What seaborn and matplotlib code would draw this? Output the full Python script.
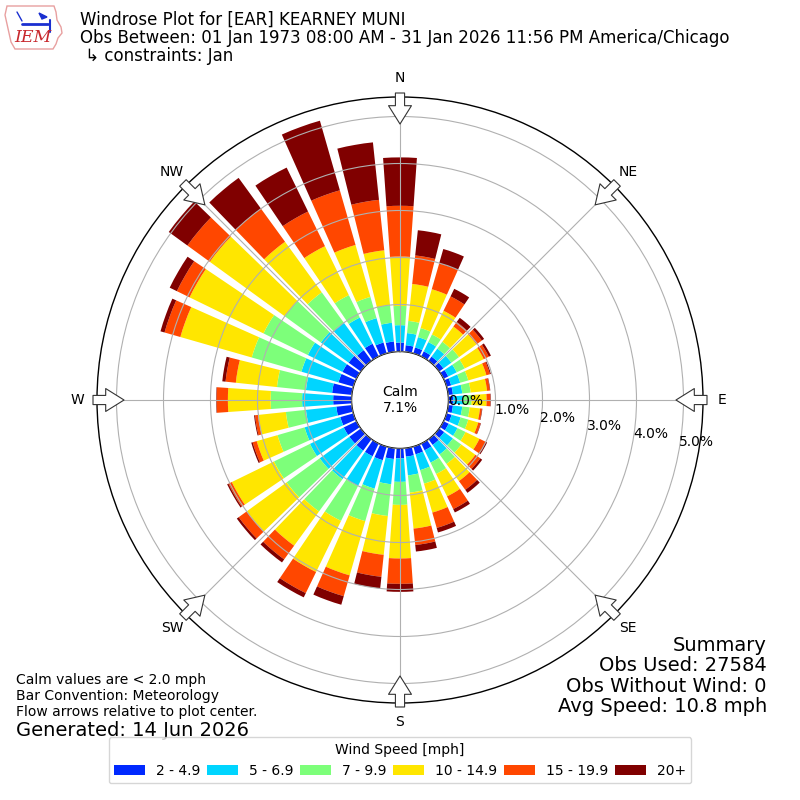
import numpy as np
import pandas as pd
import matplotlib
matplotlib.use("Agg")
import matplotlib.pyplot as plt
from matplotlib.patches import Polygon
from matplotlib.lines import Line2D
import seaborn as sns

# ---------------- data ----------------
directions = list(range(0, 360, 10))
speed_bins = ["2 - 4.9", "5 - 6.9", "7 - 9.9", "10 - 14.9", "15 - 19.9", "20+"]

pct_2_5 = [0.19, 0.14, 0.13, 0.12, 0.11, 0.11, 0.11, 0.10, 0.10, 0.10, 0.10, 0.11,
           0.12, 0.13, 0.15, 0.16, 0.17, 0.18, 0.21, 0.23, 0.30, 0.30, 0.30, 0.30,
           0.30, 0.29, 0.33, 0.39, 0.42, 0.33, 0.33, 0.32, 0.28, 0.30, 0.24, 0.22]
pct_5_7 = [0.37, 0.26, 0.23, 0.22, 0.21, 0.21, 0.20, 0.20, 0.20, 0.21, 0.20, 0.20,
           0.21, 0.23, 0.25, 0.29, 0.35, 0.40, 0.50, 0.54, 0.63, 0.71, 0.75, 0.78,
           0.80, 0.79, 0.65, 0.66, 0.56, 0.82, 0.82, 0.73, 0.72, 0.62, 0.54, 0.40]
pct_7_10 = [0.41, 0.26, 0.20, 0.18, 0.18, 0.20, 0.19, 0.18, 0.18, 0.18, 0.16, 0.17,
            0.19, 0.22, 0.25, 0.27, 0.30, 0.37, 0.49, 0.68, 0.72, 0.82, 0.85, 0.87,
            0.85, 0.60, 0.43, 0.67, 0.62, 1.10, 1.05, 0.95, 0.80, 0.53, 0.47, 0.38]
pct_10_15 = [1.05, 0.79, 0.86, 0.56, 0.40, 0.46, 0.45, 0.40, 0.35, 0.32, 0.22, 0.22,
             0.33, 0.37, 0.45, 0.53, 0.64, 0.77, 1.14, 0.83, 1.20, 1.21, 0.90, 1.05,
             1.00, 0.46, 0.59, 0.91, 0.88, 1.58, 1.75, 1.97, 1.33, 1.16, 1.15, 1.17]
pct_15_20 = [1.08, 0.61, 0.57, 0.34, 0.12, 0.14, 0.12, 0.08, 0.06, 0.08, 0.04, 0.05,
             0.15, 0.13, 0.23, 0.30, 0.34, 0.35, 0.54, 0.47, 0.46, 0.50, 0.36, 0.21,
             0.08, 0.09, 0.07, 0.24, 0.22, 0.35, 0.30, 0.59, 0.87, 0.82, 1.21, 1.08]
pct_20p = [1.03, 0.54, 0.32, 0.18, 0.11, 0.06, 0.05, 0.02, 0.01, 0.01, 0.01, 0.01,
           0.03, 0.05, 0.08, 0.08, 0.10, 0.14, 0.17, 0.25, 0.19, 0.10, 0.08, 0.05,
           0.03, 0.03, 0.02, 0.01, 0.07, 0.09, 0.17, 0.49, 0.81, 1.04, 1.54, 1.23]

radial_ticks = [0, 1, 2, 3, 4, 5]
radial_labels = ["0.0%", "1.0%", "2.0%", "3.0%", "4.0%", "5.0%"]
compass_angles = [0, 45, 90, 135, 180, 225, 270, 315]
compass_labels = ["N", "NE", "E", "SE", "S", "SW", "W", "NW"]
calm_pct = 7.1

df = pd.DataFrame({"dir": directions,
                   speed_bins[0]: pct_2_5, speed_bins[1]: pct_5_7,
                   speed_bins[2]: pct_7_10, speed_bins[3]: pct_10_15,
                   speed_bins[4]: pct_15_20, speed_bins[5]: pct_20p})

# ---------------- style ----------------
sns.set_style("white")
plt.rcParams["font.family"] = ["DejaVu Sans"]
for k in ["text.color", "axes.labelcolor", "xtick.color", "ytick.color"]:
    plt.rcParams[k] = "black"
jet = matplotlib.colormaps["jet"]
palette = sns.color_palette([jet(v) for v in np.linspace(0, 1, 7)[1:]])

fig = plt.figure(figsize=(8, 8), dpi=100)
ax = fig.add_axes([0.12125, 0.12125, 0.7575, 0.7575], projection="polar")
ax.set_theta_zero_location("N")
ax.set_theta_direction(-1)
ax.set_rorigin(-1.032)
ax.set_ylim(0, 5.415)

theta = np.deg2rad(df["dir"].to_numpy())
bottom = np.zeros(len(df))
for i, name in enumerate(speed_bins):
    vals = df[name].to_numpy()
    ax.bar(theta, vals, width=np.deg2rad(8), bottom=bottom, color=palette[i],
           linewidth=0, label=name, zorder=1)
    bottom = bottom + vals

ax.set_axisbelow(False)
ax.grid(True, color="#b0b0b0", linewidth=0.8, zorder=3)
ax.set_xticks(np.deg2rad(compass_angles))
ax.set_xticklabels(compass_labels, fontsize=10)
ax.tick_params(axis="x", pad=3.5)
ax.set_yticks(radial_ticks)
ax.set_yticklabels(radial_labels, fontsize=10)
ax.set_rlabel_position(100)
for sp in ax.spines.values():
    sp.set_color("black")
    sp.set_linewidth(1.0)

# flow arrows on the rim
for a in compass_angles:
    ax.annotate("", xy=(np.deg2rad(a), 4.84), xytext=(np.deg2rad(a), 5.50),
                xycoords="data", textcoords="data", annotation_clip=False,
                arrowprops=dict(arrowstyle="simple,head_length=0.6,head_width=0.75,tail_width=0.3",
                                fc="white", ec="#333333", lw=0.8,
                                mutation_scale=22, shrinkA=0, shrinkB=0),
                zorder=5)

ax.text(0.5, 0.5, f"Calm\n{calm_pct:.1f}%", transform=ax.transAxes,
        ha="center", va="center", fontsize=10)

# ---------------- logo (approximate) ----------------
def fp(px, py):
    return (px / 800, 1 - py / 800)

iowa = [fp(*p) for p in [(7, 6), (54, 6), (56, 12), (57, 20), (61, 27), (62, 33),
                         (58, 38), (56, 44), (53, 49), (15, 49), (11, 42), (9, 33),
                         (7, 24), (5, 15)]]
fig.add_artist(Polygon(iowa, closed=True, fill=False, ec="#e8a0a0", lw=1.0,
                       transform=fig.transFigure))
fig.add_artist(Line2D([22 / 800, 48 / 800], [1 - 24 / 800, 1 - 24 / 800], color="#1a2fd0",
                      lw=2, transform=fig.transFigure))
fig.add_artist(Line2D([17 / 800, 22 / 800], [1 - 12 / 800, 1 - 21 / 800], color="#1a2fd0",
                      lw=1, transform=fig.transFigure))
fig.add_artist(Polygon([fp(39, 13), fp(47, 17), fp(42, 19)], closed=True, fc="#1a2fd0",
                       ec="#1a2fd0", transform=fig.transFigure))
fig.add_artist(Line2D([50 / 800, 50 / 800], [1 - 20 / 800, 1 - 32 / 800], color="#1a2fd0",
                      lw=1.5, transform=fig.transFigure))
fig.text(14 / 800, 1 - 38 / 800, "IEM", fontsize=12.5, color="#c8282d", va="center",
         family="DejaVu Serif", style="italic")

# ---------------- texts ----------------
fig.text(0.1, 1 - 20 / 800, "Windrose Plot for [EAR] KEARNEY MUNI", fontsize=12, va="center")
fig.text(0.1, 1 - 38 / 800, "Obs Between: 01 Jan 1973 08:00 AM - 31 Jan 2026 11:56 PM America/Chicago",
         fontsize=12, va="center")
fig.text(0.1, 1 - 56 / 800, " \u21b3 constraints: Jan", fontsize=12, va="center")

fig.text(767 / 800, 1 - 676 / 800,
         "Summary\nObs Used: 27584\nObs Without Wind: 0\nAvg Speed: 10.8 mph",
         ha="right", va="center", fontsize=14, multialignment="right", linespacing=1.1)

fig.text(16 / 800, 1 - 696 / 800,
         "Calm values are < 2.0 mph\nBar Convention: Meteorology\nFlow arrows relative to plot center.",
         ha="left", va="center", fontsize=10, linespacing=1.15)
fig.text(16 / 800, 1 - 730 / 800, "Generated: 14 Jun 2026", ha="left", va="center", fontsize=14)

handles, labels = ax.get_legend_handles_labels()
fig.legend(handles, labels, loc="lower center", bbox_to_anchor=(0.5, 0.012), ncol=6,
           title="Wind Speed [mph]", fontsize=10, title_fontsize=10, frameon=True,
           columnspacing=0.5, handlelength=2.2)

fig.savefig("out.png", dpi=100)
